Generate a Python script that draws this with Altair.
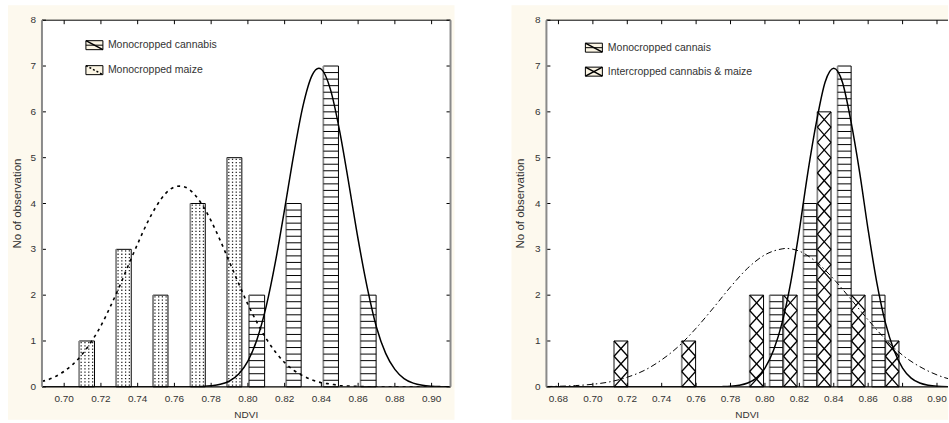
import altair as alt
import pandas as pd

# ---------------- data ----------------
x_ticks_left = [0.70, 0.72, 0.74, 0.76, 0.78, 0.80, 0.82, 0.84, 0.86, 0.88, 0.90]
x_ticks_right = [0.68, 0.70, 0.72, 0.74, 0.76, 0.78, 0.80, 0.82, 0.84, 0.86, 0.88, 0.90]
y_ticks = [0, 1, 2, 3, 4, 5, 6, 7, 8]
x_domain_left = [0.6879, 0.9103]
x_domain_right = [0.673, 0.9064]
y_domain = [0, 8]

# left panel bars
maize_start = [0.7082, 0.7283, 0.7484, 0.7687, 0.7886]
maize_end = [0.7165, 0.7365, 0.7565, 0.7768, 0.7967]
maize_counts = [1, 3, 2, 4, 5]

cannabis_start_left = [0.8006, 0.8209, 0.8411, 0.8613]
cannabis_end_left = [0.8091, 0.8290, 0.8493, 0.8698]
cannabis_counts = [2, 4, 7, 2]

# right panel bars
cannabis_start_right = [0.8027, 0.8224, 0.8422, 0.8621]
cannabis_end_right = [0.8104, 0.8301, 0.8501, 0.8698]

inter_start = [0.7123, 0.7516, 0.7911, 0.8108, 0.8305, 0.8503, 0.8700]
inter_end = [0.7203, 0.7597, 0.7992, 0.8187, 0.8384, 0.8582, 0.8779]
inter_counts = [1, 1, 2, 2, 6, 2, 1]

# fitted curves
cann_curve_x_left = [0.688, 0.70, 0.72, 0.74, 0.76, 0.765, 0.77, 0.775, 0.78, 0.785,
                     0.79, 0.795, 0.80, 0.805, 0.81, 0.815, 0.82, 0.825, 0.83, 0.835,
                     0.8386, 0.84, 0.845, 0.85, 0.855, 0.86, 0.865, 0.87, 0.875, 0.88,
                     0.885, 0.89, 0.895, 0.90, 0.905, 0.9103]
cann_curve_y_left = [0, 0, 0, 0, 0, 0.001, 0.002, 0.008, 0.022, 0.054,
                     0.127, 0.28, 0.56, 1.04, 1.76, 2.73, 3.88, 5.08, 6.13, 6.80,
                     6.95, 6.93, 6.48, 5.57, 4.42, 3.22, 2.16, 1.30, 0.73, 0.38,
                     0.18, 0.08, 0.032, 0.012, 0.004, 0.001]

maize_curve_x = [0.688, 0.69, 0.695, 0.70, 0.705, 0.71, 0.715, 0.72, 0.725, 0.73,
                 0.735, 0.74, 0.745, 0.75, 0.755, 0.76, 0.7629, 0.765, 0.77, 0.775,
                 0.78, 0.785, 0.79, 0.795, 0.80, 0.805, 0.81, 0.815, 0.82, 0.825,
                 0.83, 0.835, 0.84, 0.845, 0.85, 0.86, 0.87, 0.88, 0.90, 0.9103]
maize_curve_y = [0.12, 0.14, 0.22, 0.34, 0.50, 0.72, 1.00, 1.33, 1.74, 2.18,
                 2.66, 3.12, 3.56, 3.93, 4.21, 4.36, 4.38, 4.37, 4.24, 3.98,
                 3.62, 3.19, 2.72, 2.25, 1.80, 1.40, 1.05, 0.76, 0.53, 0.36,
                 0.24, 0.15, 0.09, 0.06, 0.03, 0.01, 0, 0, 0, 0]

cann_curve_x_right = [0.673, 0.70, 0.72, 0.74, 0.76, 0.77, 0.775, 0.78, 0.785, 0.79,
                      0.795, 0.80, 0.805, 0.81, 0.815, 0.82, 0.825, 0.83, 0.835, 0.84,
                      0.845, 0.85, 0.855, 0.86, 0.865, 0.87, 0.875, 0.88, 0.885, 0.89,
                      0.895, 0.90, 0.9064]
cann_curve_y_right = [0, 0, 0, 0, 0, 0.001, 0.004, 0.012, 0.033, 0.082,
                      0.19, 0.41, 0.80, 1.40, 2.28, 3.42, 4.69, 5.79, 6.65, 6.95,
                      6.65, 5.79, 4.69, 3.42, 2.28, 1.40, 0.80, 0.41, 0.19, 0.082,
                      0.033, 0.012, 0.004]

inter_curve_x = [0.673, 0.68, 0.69, 0.70, 0.71, 0.72, 0.73, 0.74, 0.75, 0.76,
                 0.77, 0.78, 0.79, 0.80, 0.81, 0.812, 0.82, 0.83, 0.84, 0.85,
                 0.86, 0.87, 0.88, 0.89, 0.90, 0.91]
inter_curve_y = [0.007, 0.012, 0.027, 0.056, 0.11, 0.21, 0.36, 0.59, 0.89, 1.28,
                 1.72, 2.18, 2.59, 2.88, 3.01, 3.02, 2.96, 2.72, 2.35, 1.91,
                 1.46, 1.04, 0.69, 0.44, 0.26, 0.14]

legend_left = ["Monocropped cannabis", "Monocropped maize"]
legend_right = ["Monocropped cannais", "Intercropped cannabis & maize"]
x_title = "NDVI"
y_title = "No of observation"

# ---------------- style ----------------
FONT = "Liberation Sans"
TXT = "#333333"
CREAM = "#fdf9ee"
GRAY = "#8a8a8a"
H = 367
W_LEFT = 409
W_RIGHT = 402
YS = alt.Scale(domain=y_domain, nice=False, zero=False)


def xscale(dom):
    return alt.Scale(domain=dom, nice=False, zero=False)


def bars_df(s, e, c):
    return pd.DataFrame({"x0": s, "x1": e, "n": c})


def hlines_df(s_, e_, c_, step=1 / 7):
    rows = []
    for s, e, c in zip(s_, e_, c_):
        for k in range(1, int(round(c / step))):
            rows.append({"x0": s, "x1": e, "y": k * step})
    return pd.DataFrame(rows)


def dots_df(s_, e_, c_, step=1 / 14, cols=4):
    rows = []
    for s, e, c in zip(s_, e_, c_):
        for k in range(int(round(c / step))):
            for j in range(cols):
                rows.append({"x": s + (e - s) * (j + 0.5) / cols, "y": (k + 0.5) * step})
    return pd.DataFrame(rows)


def cross_df(s_, e_, c_, step=1 / 3):
    rows = []
    for s, e, c in zip(s_, e_, c_):
        for k in range(int(round(c / step))):
            b = k * step
            rows.append({"xa": s, "ya": b, "xb": e, "yb": b + step})
            rows.append({"xa": e, "ya": b, "xb": s, "yb": b + step})
    return pd.DataFrame(rows)


def bar_layers(df, X):
    rect = alt.Chart(df).mark_rect(fill="white", stroke="black", strokeWidth=1).encode(
        x=alt.X("x0:Q", scale=X, axis=None), x2="x1:Q",
        y=alt.Y("n:Q", scale=YS, axis=None), y2=alt.datum(0))
    edge = alt.Chart(df).mark_rule(color=GRAY, strokeWidth=1.6).encode(
        x=alt.X("x0:Q", scale=X, axis=None),
        y=alt.Y("n:Q", scale=YS, axis=None), y2=alt.datum(0))
    return [rect, edge]


def hline_layer(df, X):
    return alt.Chart(df).mark_rule(color="black", strokeWidth=1).encode(
        x=alt.X("x0:Q", scale=X, axis=None), x2="x1:Q",
        y=alt.Y("y:Q", scale=YS, axis=None))


def dot_layer(df, X):
    return alt.Chart(df).mark_square(size=1.6, color="#222222", opacity=1).encode(
        x=alt.X("x:Q", scale=X, axis=None), y=alt.Y("y:Q", scale=YS, axis=None))


def cross_layer(df, X):
    return alt.Chart(df).mark_rule(color="black", strokeWidth=1.3).encode(
        x=alt.X("xa:Q", scale=X, axis=None), x2="xb:Q",
        y=alt.Y("ya:Q", scale=YS, axis=None), y2="yb:Q")


def curve_layer(xs, ys, X, **kw):
    df = pd.DataFrame({"x": xs, "y": ys})
    return alt.Chart(df).mark_line(color="black", interpolate="monotone", clip=True, **kw).encode(
        x=alt.X("x:Q", scale=X, axis=None), y=alt.Y("y:Q", scale=YS, axis=None))


ONE = pd.DataFrame({"k": [0]})


def vrule(x, color, sw):
    return alt.Chart(ONE).mark_rule(color=color, strokeWidth=sw).encode(
        x=alt.value(x), y=alt.value(0), y2=alt.value(H))


def hrule(y, W, color, sw):
    return alt.Chart(ONE).mark_rule(color=color, strokeWidth=sw).encode(
        x=alt.value(0), x2=alt.value(W), y=alt.value(y))


def frame_layers(W, X, xticks, right_spine):
    tx = pd.DataFrame({"t": xticks, "lab": ["%.2f" % v for v in xticks]})
    ty = pd.DataFrame({"t": y_ticks, "lab": [str(v) for v in y_ticks]})
    L = [
        alt.Chart(tx).mark_rule(color="black", strokeWidth=1).encode(
            x=alt.X("t:Q", scale=X, axis=None), y=alt.value(0), y2=alt.value(4)),
        alt.Chart(tx).mark_rule(color="black", strokeWidth=1).encode(
            x=alt.X("t:Q", scale=X, axis=None), y=alt.value(H - 4), y2=alt.value(H)),
        alt.Chart(ty).mark_rule(color="black", strokeWidth=1).encode(
            y=alt.Y("t:Q", scale=YS, axis=None), x=alt.value(0), x2=alt.value(4)),
        hrule(0, W, "black", 1),
        hrule(H, W, "black", 1.2),
        vrule(0, GRAY, 2),
        # tick labels
        alt.Chart(tx).mark_text(align="center", baseline="middle", font=FONT, fontSize=10,
                                color=TXT).encode(
            x=alt.X("t:Q", scale=X, axis=None), y=alt.value(H + 12), text="lab:N"),
        alt.Chart(ty).mark_text(align="right", baseline="middle", font=FONT, fontSize=10,
                                color=TXT).encode(
            y=alt.Y("t:Q", scale=YS, axis=None), x=alt.value(-6), text="lab:N"),
    ]
    if right_spine:
        L.append(alt.Chart(ty).mark_rule(color="black", strokeWidth=1).encode(
            y=alt.Y("t:Q", scale=YS, axis=None), x=alt.value(W - 4), x2=alt.value(W)))
        L.append(vrule(W, GRAY, 2))
    return L


def legend_item(label, x0, yc, tx, kind):
    base = alt.Chart(pd.DataFrame({"label": [label]}))
    x1 = x0 + 17
    y0, y1 = yc - 4.5, yc + 4.5
    L = [base.mark_rect(fill="#fbf5e4", stroke="black", strokeWidth=1).encode(
        x=alt.value(x0), x2=alt.value(x1), y=alt.value(y0), y2=alt.value(y1))]
    if kind == "hline":
        L.append(base.mark_rule(color="black", strokeWidth=1).encode(
            x=alt.value(x0), x2=alt.value(x1), y=alt.value(yc)))
        L.append(base.mark_rule(color="black", strokeWidth=1.5).encode(
            x=alt.value(x0), x2=alt.value(x1), y=alt.value(y0), y2=alt.value(y1)))
    elif kind == "dots":
        L.append(base.mark_rule(color="black", strokeWidth=1.5, strokeDash=[2, 2]).encode(
            x=alt.value(x0), x2=alt.value(x1), y=alt.value(y0), y2=alt.value(y1)))
    else:
        L.append(base.mark_rule(color="black", strokeWidth=1.5).encode(
            x=alt.value(x0), x2=alt.value(x1), y=alt.value(y0), y2=alt.value(y1)))
        L.append(base.mark_rule(color="black", strokeWidth=1.5).encode(
            x=alt.value(x1), x2=alt.value(x0), y=alt.value(y0), y2=alt.value(y1)))
    L.append(base.mark_text(align="left", baseline="middle", font=FONT, fontSize=10.5,
                            color=TXT).encode(x=alt.value(tx), y=alt.value(yc), text="label:N"))
    return L


def titles(W, xleft):
    base = alt.Chart(pd.DataFrame({"xt": [x_title], "yt": [y_title]}))
    return [
        base.mark_text(align="center", baseline="middle", font=FONT, fontSize=10,
                       color=TXT).encode(x=alt.value(W / 2), y=alt.value(H + 28), text="xt:N"),
        base.mark_text(align="center", baseline="middle", font=FONT, fontSize=11.5,
                       color=TXT, angle=270).encode(x=alt.value(xleft), y=alt.value(H / 2), text="yt:N"),
    ]


def backgrounds(W, left_ext, right_ext):
    return [
        alt.Chart(ONE).mark_rect(color=CREAM).encode(
            x=alt.value(-left_ext), x2=alt.value(W + right_ext),
            y=alt.value(-15), y2=alt.value(H + 33)),
        alt.Chart(ONE).mark_rect(color="white").encode(
            x=alt.value(0), x2=alt.value(W), y=alt.value(0), y2=alt.value(H)),
    ]


# ---------------- left panel ----------------
XL = xscale(x_domain_left)
left_layers = (
    backgrounds(W_LEFT, 34, 4)
    + bar_layers(bars_df(maize_start, maize_end, maize_counts), XL)
    + [dot_layer(dots_df(maize_start, maize_end, maize_counts), XL)]
    + bar_layers(bars_df(cannabis_start_left, cannabis_end_left, cannabis_counts), XL)
    + [hline_layer(hlines_df(cannabis_start_left, cannabis_end_left, cannabis_counts), XL)]
    + [curve_layer(maize_curve_x, maize_curve_y, XL, strokeWidth=1.6, strokeDash=[3, 4]),
       curve_layer(cann_curve_x_left, cann_curve_y_left, XL, strokeWidth=1.5)]
    + frame_layers(W_LEFT, XL, x_ticks_left, True)
    + legend_item(legend_left[0], 44, 25, 66, "hline")
    + legend_item(legend_left[1], 44, 50, 66, "dots")
    + titles(W_LEFT, -24)
)
left = alt.layer(*left_layers).properties(width=W_LEFT, height=H)

# ---------------- right panel ----------------
XR = xscale(x_domain_right)
right_layers = (
    backgrounds(W_RIGHT, 35, 0)
    + bar_layers(bars_df(inter_start, inter_end, inter_counts), XR)
    + [cross_layer(cross_df(inter_start, inter_end, inter_counts), XR)]
    + bar_layers(bars_df(cannabis_start_right, cannabis_end_right, cannabis_counts), XR)
    + [hline_layer(hlines_df(cannabis_start_right, cannabis_end_right, cannabis_counts), XR)]
    + [curve_layer(inter_curve_x, inter_curve_y, XR, strokeWidth=1, strokeDash=[6, 3, 1.5, 3]),
       curve_layer(cann_curve_x_right, cann_curve_y_right, XR, strokeWidth=1.5)]
    + frame_layers(W_RIGHT, XR, x_ticks_right, False)
    + legend_item(legend_right[0], 39, 27.5, 61.5, "hline")
    + legend_item(legend_right[1], 39, 51.5, 61.5, "cross")
    + titles(W_RIGHT, -25.5)
)
right = alt.layer(*right_layers).properties(width=W_RIGHT, height=H)

chart = alt.hconcat(left, right, spacing=57).properties(
    padding={"left": 8, "top": 5, "right": 0, "bottom": 3},
    background="white",
).configure_view(strokeOpacity=0)

chart.save("out.html", embed_options={"renderer": "svg", "actions": False})
